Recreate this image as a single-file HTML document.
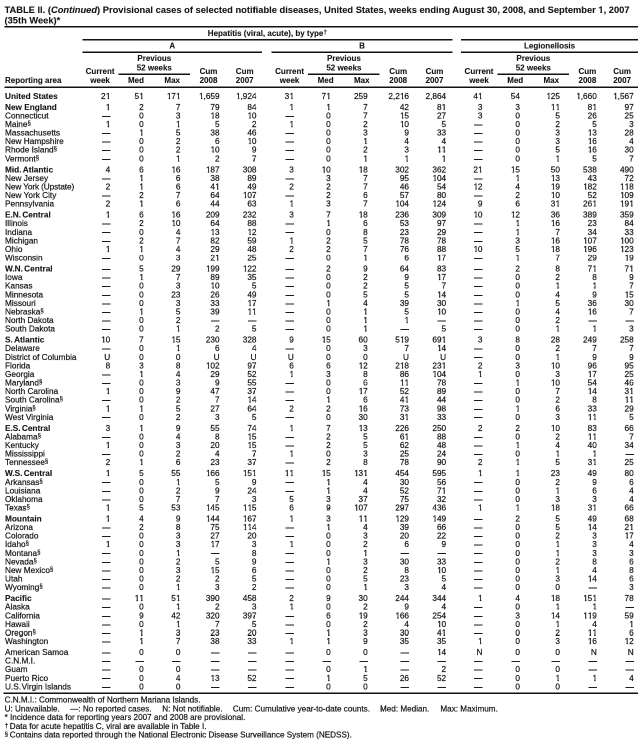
<!DOCTYPE html>
<html><head><meta charset="utf-8">
<style>
html,body{margin:0;padding:0;background:#fff;overflow:hidden;}
body{width:641px;height:744px;position:relative;overflow:hidden;font-family:"Liberation Sans",sans-serif;color:#151515;-webkit-text-stroke:0.2px #151515;}
.abs{position:absolute;white-space:nowrap;}
.t{font-weight:bold;font-size:9.3px;line-height:10px;left:4.5px;letter-spacing:0.014px;}
.h{font-weight:bold;font-size:8.0px;line-height:9px;text-align:center;letter-spacing:0px;}
.ln{position:absolute;background:#111;}
.r{position:absolute;left:0;width:641px;height:9px;font-size:8.25px;line-height:9px;white-space:nowrap;letter-spacing:0px;}
.r.b .n{font-weight:bold;}
.t,.h,.r.b .n{-webkit-text-stroke:0.1px #151515;}
.n{position:absolute;left:5.0px;top:0;}
.c{position:absolute;top:0;text-align:right;}
u{text-decoration:none;display:inline-block;position:relative;left:0.25px;clip-path:polygon(0 0,100% 0,100% 6.5px,3.15px 6.5px,3.15px 100%,1.75px 100%,1.75px 6.5px,0 6.5px);}
.t u{left:0;clip-path:polygon(0 0,100% 0,100% 7.15px,3.65px 7.15px,3.65px 100%,1.95px 100%,1.95px 7.15px,0 7.15px);}
.d{position:absolute;top:4.96px;width:8.5px;height:1px;background:#1a1a1a;}
sup{font-size:6px;line-height:0;vertical-align:1.9px;}
.h sup{font-size:6.5px;vertical-align:1.9px;}
.f sup{font-size:6.2px;vertical-align:1.7px;letter-spacing:-0.5px;}
.f{font-size:8.15px;line-height:9px;letter-spacing:0px;}
#w{position:absolute;left:0;top:0;width:1282px;height:1488px;transform:scale(0.5);will-change:transform;transform-origin:0 0;}
#z{position:absolute;left:0;top:0;width:641px;height:744px;zoom:2;overflow:hidden;}
</style></head><body><div id="w"><div id="z">
<div class="abs t" style="top:4.8px">TABLE II. (<i>Continued</i>) Provisional cases of selected notifiable diseases, United States, weeks ending August 30, 2008, and September <u>1</u>, 2007</div>
<div class="abs t" style="top:15.6px">(35th Week)*</div>
<div class="ln" style="left:4.5px;top:26.0px;width:633.5px;height:1.5px"></div>
<div class="abs h" style="left:82.5px;width:369.8px;top:29.2px">Hepatitis (viral, acute), by type<sup>†</sup></div>
<div class="ln" style="left:82.5px;top:39.0px;width:369.8px;height:1.5px"></div>
<div class="ln" style="left:461.1px;top:39.0px;width:176.9px;height:1.5px"></div>
<div class="abs h" style="left:82.5px;width:179.5px;top:41.5px">A</div>
<div class="abs h" style="left:271.7px;width:180.6px;top:41.5px">B</div>
<div class="abs h" style="left:461.1px;width:176.9px;top:41.5px">Legionellosis</div>
<div class="ln" style="left:82.5px;top:51.5px;width:179.5px;height:1.5px"></div>
<div class="ln" style="left:271.7px;top:51.5px;width:180.6px;height:1.5px"></div>
<div class="ln" style="left:461.1px;top:51.5px;width:176.9px;height:1.5px"></div>
<div class="abs h" style="left:5.00px;top:75.95px;text-align:left">Reporting area</div>
<div class="abs h" style="left:70.10px;width:60px;top:67.10px">Current</div>
<div class="abs h" style="left:70.10px;width:60px;top:75.95px">week</div>
<div class="abs h" style="left:124.30px;width:60px;top:53.90px">Previous</div>
<div class="abs h" style="left:124.30px;width:60px;top:63.30px">52 weeks</div>
<div class="abs h" style="left:106.00px;width:60px;top:75.95px">Med</div>
<div class="abs h" style="left:142.20px;width:60px;top:75.95px">Max</div>
<div class="abs h" style="left:178.50px;width:60px;top:67.10px">Cum</div>
<div class="abs h" style="left:178.50px;width:60px;top:75.95px">2008</div>
<div class="abs h" style="left:226.70px;width:36px;top:67.10px">Cum</div>
<div class="abs h" style="left:226.70px;width:36px;top:75.95px">2007</div>
<div class="ln" style="left:118.40px;top:73.50px;width:71.50px;height:1.5px"></div>
<div class="abs h" style="left:259.60px;width:60px;top:67.10px">Current</div>
<div class="abs h" style="left:259.60px;width:60px;top:75.95px">week</div>
<div class="abs h" style="left:313.90px;width:60px;top:53.90px">Previous</div>
<div class="abs h" style="left:313.90px;width:60px;top:63.30px">52 weeks</div>
<div class="abs h" style="left:295.60px;width:60px;top:75.95px">Med</div>
<div class="abs h" style="left:331.80px;width:60px;top:75.95px">Max</div>
<div class="abs h" style="left:368.20px;width:60px;top:67.10px">Cum</div>
<div class="abs h" style="left:368.20px;width:60px;top:75.95px">2008</div>
<div class="abs h" style="left:416.50px;width:36px;top:67.10px">Cum</div>
<div class="abs h" style="left:416.50px;width:36px;top:75.95px">2007</div>
<div class="ln" style="left:307.90px;top:73.50px;width:71.70px;height:1.5px"></div>
<div class="abs h" style="left:449.00px;width:60px;top:67.10px">Current</div>
<div class="abs h" style="left:449.00px;width:60px;top:75.95px">week</div>
<div class="abs h" style="left:503.30px;width:60px;top:53.90px">Previous</div>
<div class="abs h" style="left:503.30px;width:60px;top:63.30px">52 weeks</div>
<div class="abs h" style="left:485.20px;width:60px;top:75.95px">Med</div>
<div class="abs h" style="left:521.25px;width:60px;top:75.95px">Max</div>
<div class="abs h" style="left:557.40px;width:60px;top:67.10px">Cum</div>
<div class="abs h" style="left:557.40px;width:60px;top:75.95px">2008</div>
<div class="abs h" style="left:604.10px;width:36px;top:67.10px">Cum</div>
<div class="abs h" style="left:604.10px;width:36px;top:75.95px">2007</div>
<div class="ln" style="left:497.70px;top:73.50px;width:71.30px;height:1.5px"></div>
<div class="ln" style="left:4.5px;top:86.5px;width:633.5px;height:1.5px"></div>
<div class="r b" style="top:91.30px"><span class="n">United States</span><span class="c" style="right:530.76px">2<u>1</u></span><span class="c" style="right:497.30px">5<u>1</u></span><span class="c" style="right:460.52px"><u>1</u>7<u>1</u></span><span class="c" style="right:421.42px"><u>1</u>,659</span><span class="c" style="right:384.50px"><u>1</u>,924</span><span class="c" style="right:347.20px">3<u>1</u></span><span class="c" style="right:310.26px">7<u>1</u></span><span class="c" style="right:273.28px">259</span><span class="c" style="right:231.99px">2,2<u>1</u>6</span><span class="c" style="right:194.88px">2,864</span><span class="c" style="right:158.50px">4<u>1</u></span><span class="c" style="right:121.10px">54</span><span class="c" style="right:81.03px"><u>1</u>25</span><span class="c" style="right:44.18px"><u>1</u>,660</span><span class="c" style="right:7.29px"><u>1</u>,567</span></div>
<div class="r b" style="top:102.31px"><span class="n">New England</span><span class="c" style="right:530.76px"><u>1</u></span><span class="c" style="right:497.30px">2</span><span class="c" style="right:460.52px">7</span><span class="c" style="right:421.42px">79</span><span class="c" style="right:384.50px">84</span><span class="c" style="right:347.20px"><u>1</u></span><span class="c" style="right:310.26px"><u>1</u></span><span class="c" style="right:273.28px">7</span><span class="c" style="right:231.99px">42</span><span class="c" style="right:194.88px">8<u>1</u></span><span class="c" style="right:158.50px">3</span><span class="c" style="right:121.10px">3</span><span class="c" style="right:81.03px"><u>1</u><u>1</u></span><span class="c" style="right:44.18px">8<u>1</u></span><span class="c" style="right:7.29px">97</span></div>
<div class="r" style="top:110.89px"><span class="n">Connecticut</span><span class="d" style="left:101.84px;top:5.11px"></span><span class="c" style="right:497.30px">0</span><span class="c" style="right:460.52px">3</span><span class="c" style="right:421.42px"><u>1</u>8</span><span class="c" style="right:384.50px"><u>1</u>0</span><span class="d" style="left:285.40px;top:5.11px"></span><span class="c" style="right:310.26px">0</span><span class="c" style="right:273.28px">7</span><span class="c" style="right:231.99px"><u>1</u>5</span><span class="c" style="right:194.88px">27</span><span class="c" style="right:158.50px">3</span><span class="c" style="right:121.10px">0</span><span class="c" style="right:81.03px">5</span><span class="c" style="right:44.18px">26</span><span class="c" style="right:7.29px">25</span></div>
<div class="r" style="top:119.47px"><span class="n">Maine<sup>§</sup></span><span class="c" style="right:530.76px"><u>1</u></span><span class="c" style="right:497.30px">0</span><span class="c" style="right:460.52px"><u>1</u></span><span class="c" style="right:421.42px">5</span><span class="c" style="right:384.50px">2</span><span class="c" style="right:347.20px"><u>1</u></span><span class="c" style="right:310.26px">0</span><span class="c" style="right:273.28px">2</span><span class="c" style="right:231.99px"><u>1</u>0</span><span class="c" style="right:194.88px">5</span><span class="d" style="left:474.10px;top:5.03px"></span><span class="c" style="right:121.10px">0</span><span class="c" style="right:81.03px">2</span><span class="c" style="right:44.18px">5</span><span class="c" style="right:7.29px">3</span></div>
<div class="r" style="top:128.05px"><span class="n">Massachusetts</span><span class="d" style="left:101.84px;top:4.95px"></span><span class="c" style="right:497.30px"><u>1</u></span><span class="c" style="right:460.52px">5</span><span class="c" style="right:421.42px">38</span><span class="c" style="right:384.50px">46</span><span class="d" style="left:285.40px;top:4.95px"></span><span class="c" style="right:310.26px">0</span><span class="c" style="right:273.28px">3</span><span class="c" style="right:231.99px">9</span><span class="c" style="right:194.88px">33</span><span class="d" style="left:474.10px;top:4.95px"></span><span class="c" style="right:121.10px">0</span><span class="c" style="right:81.03px">3</span><span class="c" style="right:44.18px"><u>1</u>3</span><span class="c" style="right:7.29px">28</span></div>
<div class="r" style="top:136.63px"><span class="n">New Hampshire</span><span class="d" style="left:101.84px;top:4.87px"></span><span class="c" style="right:497.30px">0</span><span class="c" style="right:460.52px">2</span><span class="c" style="right:421.42px">6</span><span class="c" style="right:384.50px"><u>1</u>0</span><span class="d" style="left:285.40px;top:4.87px"></span><span class="c" style="right:310.26px">0</span><span class="c" style="right:273.28px"><u>1</u></span><span class="c" style="right:231.99px">4</span><span class="c" style="right:194.88px">4</span><span class="d" style="left:474.10px;top:4.87px"></span><span class="c" style="right:121.10px">0</span><span class="c" style="right:81.03px">3</span><span class="c" style="right:44.18px"><u>1</u>6</span><span class="c" style="right:7.29px">4</span></div>
<div class="r" style="top:145.21px"><span class="n">Rhode Island<sup>§</sup></span><span class="d" style="left:101.84px;top:4.79px"></span><span class="c" style="right:497.30px">0</span><span class="c" style="right:460.52px">2</span><span class="c" style="right:421.42px"><u>1</u>0</span><span class="c" style="right:384.50px">9</span><span class="d" style="left:285.40px;top:4.79px"></span><span class="c" style="right:310.26px">0</span><span class="c" style="right:273.28px">2</span><span class="c" style="right:231.99px">3</span><span class="c" style="right:194.88px"><u>1</u><u>1</u></span><span class="d" style="left:474.10px;top:4.79px"></span><span class="c" style="right:121.10px">0</span><span class="c" style="right:81.03px">5</span><span class="c" style="right:44.18px"><u>1</u>6</span><span class="c" style="right:7.29px">30</span></div>
<div class="r" style="top:153.79px"><span class="n">Vermont<sup>§</sup></span><span class="d" style="left:101.84px;top:5.21px"></span><span class="c" style="right:497.30px">0</span><span class="c" style="right:460.52px"><u>1</u></span><span class="c" style="right:421.42px">2</span><span class="c" style="right:384.50px">7</span><span class="d" style="left:285.40px;top:5.21px"></span><span class="c" style="right:310.26px">0</span><span class="c" style="right:273.28px"><u>1</u></span><span class="c" style="right:231.99px"><u>1</u></span><span class="c" style="right:194.88px"><u>1</u></span><span class="d" style="left:474.10px;top:5.21px"></span><span class="c" style="right:121.10px">0</span><span class="c" style="right:81.03px"><u>1</u></span><span class="c" style="right:44.18px">5</span><span class="c" style="right:7.29px">7</span></div>
<div class="r b" style="top:164.80px"><span class="n">Mid.<span style="letter-spacing:-1px"> </span>Atlantic</span><span class="c" style="right:530.76px">4</span><span class="c" style="right:497.30px">6</span><span class="c" style="right:460.52px"><u>1</u>6</span><span class="c" style="right:421.42px"><u>1</u>87</span><span class="c" style="right:384.50px">308</span><span class="c" style="right:347.20px">3</span><span class="c" style="right:310.26px"><u>1</u>0</span><span class="c" style="right:273.28px"><u>1</u>8</span><span class="c" style="right:231.99px">302</span><span class="c" style="right:194.88px">362</span><span class="c" style="right:158.50px">2<u>1</u></span><span class="c" style="right:121.10px"><u>1</u>5</span><span class="c" style="right:81.03px">50</span><span class="c" style="right:44.18px">538</span><span class="c" style="right:7.29px">490</span></div>
<div class="r" style="top:173.38px"><span class="n">New Jersey</span><span class="d" style="left:101.84px;top:5.12px"></span><span class="c" style="right:497.30px"><u>1</u></span><span class="c" style="right:460.52px">6</span><span class="c" style="right:421.42px">38</span><span class="c" style="right:384.50px">89</span><span class="d" style="left:285.40px;top:5.12px"></span><span class="c" style="right:310.26px">3</span><span class="c" style="right:273.28px">7</span><span class="c" style="right:231.99px">95</span><span class="c" style="right:194.88px"><u>1</u>04</span><span class="d" style="left:474.10px;top:5.12px"></span><span class="c" style="right:121.10px"><u>1</u></span><span class="c" style="right:81.03px"><u>1</u>3</span><span class="c" style="right:44.18px">43</span><span class="c" style="right:7.29px">72</span></div>
<div class="r" style="top:181.96px"><span class="n"><span style="letter-spacing:-0.11px">New York (Upstate)</span></span><span class="c" style="right:530.76px">2</span><span class="c" style="right:497.30px"><u>1</u></span><span class="c" style="right:460.52px">6</span><span class="c" style="right:421.42px">4<u>1</u></span><span class="c" style="right:384.50px">49</span><span class="c" style="right:347.20px">2</span><span class="c" style="right:310.26px">2</span><span class="c" style="right:273.28px">7</span><span class="c" style="right:231.99px">46</span><span class="c" style="right:194.88px">54</span><span class="c" style="right:158.50px"><u>1</u>2</span><span class="c" style="right:121.10px">4</span><span class="c" style="right:81.03px"><u>1</u>9</span><span class="c" style="right:44.18px"><u>1</u>82</span><span class="c" style="right:7.29px"><u>1</u><u>1</u>8</span></div>
<div class="r" style="top:190.54px"><span class="n">New York City</span><span class="d" style="left:101.84px;top:4.96px"></span><span class="c" style="right:497.30px">2</span><span class="c" style="right:460.52px">7</span><span class="c" style="right:421.42px">64</span><span class="c" style="right:384.50px"><u>1</u>07</span><span class="d" style="left:285.40px;top:4.96px"></span><span class="c" style="right:310.26px">2</span><span class="c" style="right:273.28px">6</span><span class="c" style="right:231.99px">57</span><span class="c" style="right:194.88px">80</span><span class="d" style="left:474.10px;top:4.96px"></span><span class="c" style="right:121.10px">2</span><span class="c" style="right:81.03px"><u>1</u>0</span><span class="c" style="right:44.18px">52</span><span class="c" style="right:7.29px"><u>1</u>09</span></div>
<div class="r" style="top:199.12px"><span class="n">Pennsylvania</span><span class="c" style="right:530.76px">2</span><span class="c" style="right:497.30px"><u>1</u></span><span class="c" style="right:460.52px">6</span><span class="c" style="right:421.42px">44</span><span class="c" style="right:384.50px">63</span><span class="c" style="right:347.20px"><u>1</u></span><span class="c" style="right:310.26px">3</span><span class="c" style="right:273.28px">7</span><span class="c" style="right:231.99px"><u>1</u>04</span><span class="c" style="right:194.88px"><u>1</u>24</span><span class="c" style="right:158.50px">9</span><span class="c" style="right:121.10px">6</span><span class="c" style="right:81.03px">3<u>1</u></span><span class="c" style="right:44.18px">26<u>1</u></span><span class="c" style="right:7.29px"><u>1</u>9<u>1</u></span></div>
<div class="r b" style="top:210.13px"><span class="n">E.N.<span style="letter-spacing:-1px"> </span>Central</span><span class="c" style="right:530.76px"><u>1</u></span><span class="c" style="right:497.30px">6</span><span class="c" style="right:460.52px"><u>1</u>6</span><span class="c" style="right:421.42px">209</span><span class="c" style="right:384.50px">232</span><span class="c" style="right:347.20px">3</span><span class="c" style="right:310.26px">7</span><span class="c" style="right:273.28px"><u>1</u>8</span><span class="c" style="right:231.99px">236</span><span class="c" style="right:194.88px">309</span><span class="c" style="right:158.50px"><u>1</u>0</span><span class="c" style="right:121.10px"><u>1</u>2</span><span class="c" style="right:81.03px">36</span><span class="c" style="right:44.18px">389</span><span class="c" style="right:7.29px">359</span></div>
<div class="r" style="top:218.71px"><span class="n">Illinois</span><span class="d" style="left:101.84px;top:4.79px"></span><span class="c" style="right:497.30px">2</span><span class="c" style="right:460.52px"><u>1</u>0</span><span class="c" style="right:421.42px">64</span><span class="c" style="right:384.50px">88</span><span class="d" style="left:285.40px;top:4.79px"></span><span class="c" style="right:310.26px"><u>1</u></span><span class="c" style="right:273.28px">6</span><span class="c" style="right:231.99px">53</span><span class="c" style="right:194.88px">97</span><span class="d" style="left:474.10px;top:4.79px"></span><span class="c" style="right:121.10px"><u>1</u></span><span class="c" style="right:81.03px"><u>1</u>6</span><span class="c" style="right:44.18px">23</span><span class="c" style="right:7.29px">84</span></div>
<div class="r" style="top:227.29px"><span class="n">Indiana</span><span class="d" style="left:101.84px;top:4.71px"></span><span class="c" style="right:497.30px">0</span><span class="c" style="right:460.52px">4</span><span class="c" style="right:421.42px"><u>1</u>3</span><span class="c" style="right:384.50px"><u>1</u>2</span><span class="d" style="left:285.40px;top:4.71px"></span><span class="c" style="right:310.26px">0</span><span class="c" style="right:273.28px">8</span><span class="c" style="right:231.99px">23</span><span class="c" style="right:194.88px">29</span><span class="d" style="left:474.10px;top:4.71px"></span><span class="c" style="right:121.10px"><u>1</u></span><span class="c" style="right:81.03px">7</span><span class="c" style="right:44.18px">34</span><span class="c" style="right:7.29px">33</span></div>
<div class="r" style="top:235.87px"><span class="n">Michigan</span><span class="d" style="left:101.84px;top:5.13px"></span><span class="c" style="right:497.30px">2</span><span class="c" style="right:460.52px">7</span><span class="c" style="right:421.42px">82</span><span class="c" style="right:384.50px">59</span><span class="c" style="right:347.20px"><u>1</u></span><span class="c" style="right:310.26px">2</span><span class="c" style="right:273.28px">5</span><span class="c" style="right:231.99px">78</span><span class="c" style="right:194.88px">78</span><span class="d" style="left:474.10px;top:5.13px"></span><span class="c" style="right:121.10px">3</span><span class="c" style="right:81.03px"><u>1</u>6</span><span class="c" style="right:44.18px"><u>1</u>07</span><span class="c" style="right:7.29px"><u>1</u>00</span></div>
<div class="r" style="top:244.45px"><span class="n">Ohio</span><span class="c" style="right:530.76px"><u>1</u></span><span class="c" style="right:497.30px"><u>1</u></span><span class="c" style="right:460.52px">4</span><span class="c" style="right:421.42px">29</span><span class="c" style="right:384.50px">48</span><span class="c" style="right:347.20px">2</span><span class="c" style="right:310.26px">2</span><span class="c" style="right:273.28px">7</span><span class="c" style="right:231.99px">76</span><span class="c" style="right:194.88px">88</span><span class="c" style="right:158.50px"><u>1</u>0</span><span class="c" style="right:121.10px">5</span><span class="c" style="right:81.03px"><u>1</u>8</span><span class="c" style="right:44.18px"><u>1</u>96</span><span class="c" style="right:7.29px"><u>1</u>23</span></div>
<div class="r" style="top:253.03px"><span class="n">Wisconsin</span><span class="d" style="left:101.84px;top:4.97px"></span><span class="c" style="right:497.30px">0</span><span class="c" style="right:460.52px">3</span><span class="c" style="right:421.42px">2<u>1</u></span><span class="c" style="right:384.50px">25</span><span class="d" style="left:285.40px;top:4.97px"></span><span class="c" style="right:310.26px">0</span><span class="c" style="right:273.28px"><u>1</u></span><span class="c" style="right:231.99px">6</span><span class="c" style="right:194.88px"><u>1</u>7</span><span class="d" style="left:474.10px;top:4.97px"></span><span class="c" style="right:121.10px"><u>1</u></span><span class="c" style="right:81.03px">7</span><span class="c" style="right:44.18px">29</span><span class="c" style="right:7.29px"><u>1</u>9</span></div>
<div class="r b" style="top:264.04px"><span class="n">W.N.<span style="letter-spacing:-1px"> </span>Central</span><span class="d" style="left:101.84px;top:4.96px"></span><span class="c" style="right:497.30px">5</span><span class="c" style="right:460.52px">29</span><span class="c" style="right:421.42px"><u>1</u>99</span><span class="c" style="right:384.50px"><u>1</u>22</span><span class="d" style="left:285.40px;top:4.96px"></span><span class="c" style="right:310.26px">2</span><span class="c" style="right:273.28px">9</span><span class="c" style="right:231.99px">64</span><span class="c" style="right:194.88px">83</span><span class="d" style="left:474.10px;top:4.96px"></span><span class="c" style="right:121.10px">2</span><span class="c" style="right:81.03px">8</span><span class="c" style="right:44.18px">7<u>1</u></span><span class="c" style="right:7.29px">7<u>1</u></span></div>
<div class="r" style="top:272.62px"><span class="n">Iowa</span><span class="d" style="left:101.84px;top:4.88px"></span><span class="c" style="right:497.30px"><u>1</u></span><span class="c" style="right:460.52px">7</span><span class="c" style="right:421.42px">89</span><span class="c" style="right:384.50px">35</span><span class="d" style="left:285.40px;top:4.88px"></span><span class="c" style="right:310.26px">0</span><span class="c" style="right:273.28px">2</span><span class="c" style="right:231.99px">9</span><span class="c" style="right:194.88px"><u>1</u>7</span><span class="d" style="left:474.10px;top:4.88px"></span><span class="c" style="right:121.10px">0</span><span class="c" style="right:81.03px">2</span><span class="c" style="right:44.18px">8</span><span class="c" style="right:7.29px">9</span></div>
<div class="r" style="top:281.20px"><span class="n">Kansas</span><span class="d" style="left:101.84px;top:4.80px"></span><span class="c" style="right:497.30px">0</span><span class="c" style="right:460.52px">3</span><span class="c" style="right:421.42px"><u>1</u>0</span><span class="c" style="right:384.50px">5</span><span class="d" style="left:285.40px;top:4.80px"></span><span class="c" style="right:310.26px">0</span><span class="c" style="right:273.28px">2</span><span class="c" style="right:231.99px">5</span><span class="c" style="right:194.88px">7</span><span class="d" style="left:474.10px;top:4.80px"></span><span class="c" style="right:121.10px">0</span><span class="c" style="right:81.03px"><u>1</u></span><span class="c" style="right:44.18px"><u>1</u></span><span class="c" style="right:7.29px">7</span></div>
<div class="r" style="top:289.78px"><span class="n">Minnesota</span><span class="d" style="left:101.84px;top:5.22px"></span><span class="c" style="right:497.30px">0</span><span class="c" style="right:460.52px">23</span><span class="c" style="right:421.42px">26</span><span class="c" style="right:384.50px">49</span><span class="d" style="left:285.40px;top:5.22px"></span><span class="c" style="right:310.26px">0</span><span class="c" style="right:273.28px">5</span><span class="c" style="right:231.99px">5</span><span class="c" style="right:194.88px"><u>1</u>4</span><span class="d" style="left:474.10px;top:5.22px"></span><span class="c" style="right:121.10px">0</span><span class="c" style="right:81.03px">4</span><span class="c" style="right:44.18px">9</span><span class="c" style="right:7.29px"><u>1</u>5</span></div>
<div class="r" style="top:298.36px"><span class="n">Missouri</span><span class="d" style="left:101.84px;top:5.14px"></span><span class="c" style="right:497.30px">0</span><span class="c" style="right:460.52px">3</span><span class="c" style="right:421.42px">33</span><span class="c" style="right:384.50px"><u>1</u>7</span><span class="d" style="left:285.40px;top:5.14px"></span><span class="c" style="right:310.26px"><u>1</u></span><span class="c" style="right:273.28px">4</span><span class="c" style="right:231.99px">39</span><span class="c" style="right:194.88px">30</span><span class="d" style="left:474.10px;top:5.14px"></span><span class="c" style="right:121.10px"><u>1</u></span><span class="c" style="right:81.03px">5</span><span class="c" style="right:44.18px">36</span><span class="c" style="right:7.29px">30</span></div>
<div class="r" style="top:306.94px"><span class="n">Nebraska<sup>§</sup></span><span class="d" style="left:101.84px;top:5.06px"></span><span class="c" style="right:497.30px"><u>1</u></span><span class="c" style="right:460.52px">5</span><span class="c" style="right:421.42px">39</span><span class="c" style="right:384.50px"><u>1</u><u>1</u></span><span class="d" style="left:285.40px;top:5.06px"></span><span class="c" style="right:310.26px">0</span><span class="c" style="right:273.28px"><u>1</u></span><span class="c" style="right:231.99px">5</span><span class="c" style="right:194.88px"><u>1</u>0</span><span class="d" style="left:474.10px;top:5.06px"></span><span class="c" style="right:121.10px">0</span><span class="c" style="right:81.03px">4</span><span class="c" style="right:44.18px"><u>1</u>6</span><span class="c" style="right:7.29px">7</span></div>
<div class="r" style="top:315.52px"><span class="n">North Dakota</span><span class="d" style="left:101.84px;top:4.98px"></span><span class="c" style="right:497.30px">0</span><span class="c" style="right:460.52px">2</span><span class="d" style="left:211.18px;top:4.98px"></span><span class="d" style="left:248.10px;top:4.98px"></span><span class="d" style="left:285.40px;top:4.98px"></span><span class="c" style="right:310.26px">0</span><span class="c" style="right:273.28px"><u>1</u></span><span class="c" style="right:231.99px"><u>1</u></span><span class="d" style="left:437.72px;top:4.98px"></span><span class="d" style="left:474.10px;top:4.98px"></span><span class="c" style="right:121.10px">0</span><span class="c" style="right:81.03px">2</span><span class="d" style="left:588.42px;top:4.98px"></span><span class="d" style="left:625.31px;top:4.98px"></span></div>
<div class="r" style="top:324.10px"><span class="n">South Dakota</span><span class="d" style="left:101.84px;top:4.90px"></span><span class="c" style="right:497.30px">0</span><span class="c" style="right:460.52px"><u>1</u></span><span class="c" style="right:421.42px">2</span><span class="c" style="right:384.50px">5</span><span class="d" style="left:285.40px;top:4.90px"></span><span class="c" style="right:310.26px">0</span><span class="c" style="right:273.28px"><u>1</u></span><span class="d" style="left:400.61px;top:4.90px"></span><span class="c" style="right:194.88px">5</span><span class="d" style="left:474.10px;top:4.90px"></span><span class="c" style="right:121.10px">0</span><span class="c" style="right:81.03px"><u>1</u></span><span class="c" style="right:44.18px"><u>1</u></span><span class="c" style="right:7.29px">3</span></div>
<div class="r b" style="top:335.11px"><span class="n">S.<span style="letter-spacing:-1px"> </span>Atlantic</span><span class="c" style="right:530.76px"><u>1</u>0</span><span class="c" style="right:497.30px">7</span><span class="c" style="right:460.52px"><u>1</u>5</span><span class="c" style="right:421.42px">230</span><span class="c" style="right:384.50px">328</span><span class="c" style="right:347.20px">9</span><span class="c" style="right:310.26px"><u>1</u>5</span><span class="c" style="right:273.28px">60</span><span class="c" style="right:231.99px">5<u>1</u>9</span><span class="c" style="right:194.88px">69<u>1</u></span><span class="c" style="right:158.50px">3</span><span class="c" style="right:121.10px">8</span><span class="c" style="right:81.03px">28</span><span class="c" style="right:44.18px">249</span><span class="c" style="right:7.29px">258</span></div>
<div class="r" style="top:343.69px"><span class="n">Delaware</span><span class="d" style="left:101.84px;top:4.81px"></span><span class="c" style="right:497.30px">0</span><span class="c" style="right:460.52px"><u>1</u></span><span class="c" style="right:421.42px">6</span><span class="c" style="right:384.50px">4</span><span class="d" style="left:285.40px;top:4.81px"></span><span class="c" style="right:310.26px">0</span><span class="c" style="right:273.28px">3</span><span class="c" style="right:231.99px">7</span><span class="c" style="right:194.88px"><u>1</u>4</span><span class="d" style="left:474.10px;top:4.81px"></span><span class="c" style="right:121.10px">0</span><span class="c" style="right:81.03px">2</span><span class="c" style="right:44.18px">7</span><span class="c" style="right:7.29px">7</span></div>
<div class="r" style="top:352.27px"><span class="n">District of Columbia</span><span class="c" style="right:530.76px">U</span><span class="c" style="right:497.30px">0</span><span class="c" style="right:460.52px">0</span><span class="c" style="right:421.42px">U</span><span class="c" style="right:384.50px">U</span><span class="c" style="right:347.20px">U</span><span class="c" style="right:310.26px">0</span><span class="c" style="right:273.28px">0</span><span class="c" style="right:231.99px">U</span><span class="c" style="right:194.88px">U</span><span class="d" style="left:474.10px;top:4.73px"></span><span class="c" style="right:121.10px">0</span><span class="c" style="right:81.03px"><u>1</u></span><span class="c" style="right:44.18px">9</span><span class="c" style="right:7.29px">9</span></div>
<div class="r" style="top:360.85px"><span class="n">Florida</span><span class="c" style="right:530.76px">8</span><span class="c" style="right:497.30px">3</span><span class="c" style="right:460.52px">8</span><span class="c" style="right:421.42px"><u>1</u>02</span><span class="c" style="right:384.50px">97</span><span class="c" style="right:347.20px">6</span><span class="c" style="right:310.26px">6</span><span class="c" style="right:273.28px"><u>1</u>2</span><span class="c" style="right:231.99px">2<u>1</u>8</span><span class="c" style="right:194.88px">23<u>1</u></span><span class="c" style="right:158.50px">2</span><span class="c" style="right:121.10px">3</span><span class="c" style="right:81.03px"><u>1</u>0</span><span class="c" style="right:44.18px">96</span><span class="c" style="right:7.29px">95</span></div>
<div class="r" style="top:369.43px"><span class="n">Georgia</span><span class="d" style="left:101.84px;top:5.07px"></span><span class="c" style="right:497.30px"><u>1</u></span><span class="c" style="right:460.52px">4</span><span class="c" style="right:421.42px">29</span><span class="c" style="right:384.50px">52</span><span class="c" style="right:347.20px"><u>1</u></span><span class="c" style="right:310.26px">3</span><span class="c" style="right:273.28px">8</span><span class="c" style="right:231.99px">86</span><span class="c" style="right:194.88px"><u>1</u>04</span><span class="c" style="right:158.50px"><u>1</u></span><span class="c" style="right:121.10px">0</span><span class="c" style="right:81.03px">3</span><span class="c" style="right:44.18px"><u>1</u>7</span><span class="c" style="right:7.29px">25</span></div>
<div class="r" style="top:378.01px"><span class="n">Maryland<sup>§</sup></span><span class="d" style="left:101.84px;top:4.99px"></span><span class="c" style="right:497.30px">0</span><span class="c" style="right:460.52px">3</span><span class="c" style="right:421.42px">9</span><span class="c" style="right:384.50px">55</span><span class="d" style="left:285.40px;top:4.99px"></span><span class="c" style="right:310.26px">0</span><span class="c" style="right:273.28px">6</span><span class="c" style="right:231.99px"><u>1</u><u>1</u></span><span class="c" style="right:194.88px">78</span><span class="d" style="left:474.10px;top:4.99px"></span><span class="c" style="right:121.10px"><u>1</u></span><span class="c" style="right:81.03px"><u>1</u>0</span><span class="c" style="right:44.18px">54</span><span class="c" style="right:7.29px">46</span></div>
<div class="r" style="top:386.59px"><span class="n">North Carolina</span><span class="c" style="right:530.76px"><u>1</u></span><span class="c" style="right:497.30px">0</span><span class="c" style="right:460.52px">9</span><span class="c" style="right:421.42px">47</span><span class="c" style="right:384.50px">37</span><span class="d" style="left:285.40px;top:4.91px"></span><span class="c" style="right:310.26px">0</span><span class="c" style="right:273.28px"><u>1</u>7</span><span class="c" style="right:231.99px">52</span><span class="c" style="right:194.88px">89</span><span class="d" style="left:474.10px;top:4.91px"></span><span class="c" style="right:121.10px">0</span><span class="c" style="right:81.03px">7</span><span class="c" style="right:44.18px"><u>1</u>4</span><span class="c" style="right:7.29px">3<u>1</u></span></div>
<div class="r" style="top:395.17px"><span class="n">South Carolina<sup>§</sup></span><span class="d" style="left:101.84px;top:4.83px"></span><span class="c" style="right:497.30px">0</span><span class="c" style="right:460.52px">2</span><span class="c" style="right:421.42px">7</span><span class="c" style="right:384.50px"><u>1</u>4</span><span class="d" style="left:285.40px;top:4.83px"></span><span class="c" style="right:310.26px"><u>1</u></span><span class="c" style="right:273.28px">6</span><span class="c" style="right:231.99px">4<u>1</u></span><span class="c" style="right:194.88px">44</span><span class="d" style="left:474.10px;top:4.83px"></span><span class="c" style="right:121.10px">0</span><span class="c" style="right:81.03px">2</span><span class="c" style="right:44.18px">8</span><span class="c" style="right:7.29px"><u>1</u><u>1</u></span></div>
<div class="r" style="top:403.75px"><span class="n">Virginia<sup>§</sup></span><span class="c" style="right:530.76px"><u>1</u></span><span class="c" style="right:497.30px"><u>1</u></span><span class="c" style="right:460.52px">5</span><span class="c" style="right:421.42px">27</span><span class="c" style="right:384.50px">64</span><span class="c" style="right:347.20px">2</span><span class="c" style="right:310.26px">2</span><span class="c" style="right:273.28px"><u>1</u>6</span><span class="c" style="right:231.99px">73</span><span class="c" style="right:194.88px">98</span><span class="d" style="left:474.10px;top:5.25px"></span><span class="c" style="right:121.10px"><u>1</u></span><span class="c" style="right:81.03px">6</span><span class="c" style="right:44.18px">33</span><span class="c" style="right:7.29px">29</span></div>
<div class="r" style="top:412.33px"><span class="n">West Virginia</span><span class="d" style="left:101.84px;top:4.67px"></span><span class="c" style="right:497.30px">0</span><span class="c" style="right:460.52px">2</span><span class="c" style="right:421.42px">3</span><span class="c" style="right:384.50px">5</span><span class="d" style="left:285.40px;top:4.67px"></span><span class="c" style="right:310.26px">0</span><span class="c" style="right:273.28px">30</span><span class="c" style="right:231.99px">3<u>1</u></span><span class="c" style="right:194.88px">33</span><span class="d" style="left:474.10px;top:4.67px"></span><span class="c" style="right:121.10px">0</span><span class="c" style="right:81.03px">3</span><span class="c" style="right:44.18px"><u>1</u><u>1</u></span><span class="c" style="right:7.29px">5</span></div>
<div class="r b" style="top:423.34px"><span class="n">E.S.<span style="letter-spacing:-1px"> </span>Central</span><span class="c" style="right:530.76px">3</span><span class="c" style="right:497.30px"><u>1</u></span><span class="c" style="right:460.52px">9</span><span class="c" style="right:421.42px">55</span><span class="c" style="right:384.50px">74</span><span class="c" style="right:347.20px"><u>1</u></span><span class="c" style="right:310.26px">7</span><span class="c" style="right:273.28px"><u>1</u>3</span><span class="c" style="right:231.99px">226</span><span class="c" style="right:194.88px">250</span><span class="c" style="right:158.50px">2</span><span class="c" style="right:121.10px">2</span><span class="c" style="right:81.03px"><u>1</u>0</span><span class="c" style="right:44.18px">83</span><span class="c" style="right:7.29px">66</span></div>
<div class="r" style="top:431.92px"><span class="n">Alabama<sup>§</sup></span><span class="d" style="left:101.84px;top:5.08px"></span><span class="c" style="right:497.30px">0</span><span class="c" style="right:460.52px">4</span><span class="c" style="right:421.42px">8</span><span class="c" style="right:384.50px"><u>1</u>5</span><span class="d" style="left:285.40px;top:5.08px"></span><span class="c" style="right:310.26px">2</span><span class="c" style="right:273.28px">5</span><span class="c" style="right:231.99px">6<u>1</u></span><span class="c" style="right:194.88px">88</span><span class="d" style="left:474.10px;top:5.08px"></span><span class="c" style="right:121.10px">0</span><span class="c" style="right:81.03px">2</span><span class="c" style="right:44.18px"><u>1</u><u>1</u></span><span class="c" style="right:7.29px">7</span></div>
<div class="r" style="top:440.50px"><span class="n">Kentucky</span><span class="c" style="right:530.76px"><u>1</u></span><span class="c" style="right:497.30px">0</span><span class="c" style="right:460.52px">3</span><span class="c" style="right:421.42px">20</span><span class="c" style="right:384.50px"><u>1</u>5</span><span class="d" style="left:285.40px;top:5.00px"></span><span class="c" style="right:310.26px">2</span><span class="c" style="right:273.28px">5</span><span class="c" style="right:231.99px">62</span><span class="c" style="right:194.88px">48</span><span class="d" style="left:474.10px;top:5.00px"></span><span class="c" style="right:121.10px"><u>1</u></span><span class="c" style="right:81.03px">4</span><span class="c" style="right:44.18px">40</span><span class="c" style="right:7.29px">34</span></div>
<div class="r" style="top:449.08px"><span class="n">Mississippi</span><span class="d" style="left:101.84px;top:4.92px"></span><span class="c" style="right:497.30px">0</span><span class="c" style="right:460.52px">2</span><span class="c" style="right:421.42px">4</span><span class="c" style="right:384.50px">7</span><span class="c" style="right:347.20px"><u>1</u></span><span class="c" style="right:310.26px">0</span><span class="c" style="right:273.28px">3</span><span class="c" style="right:231.99px">25</span><span class="c" style="right:194.88px">24</span><span class="d" style="left:474.10px;top:4.92px"></span><span class="c" style="right:121.10px">0</span><span class="c" style="right:81.03px"><u>1</u></span><span class="c" style="right:44.18px"><u>1</u></span><span class="d" style="left:625.31px;top:4.92px"></span></div>
<div class="r" style="top:457.66px"><span class="n">Tennessee<sup>§</sup></span><span class="c" style="right:530.76px">2</span><span class="c" style="right:497.30px"><u>1</u></span><span class="c" style="right:460.52px">6</span><span class="c" style="right:421.42px">23</span><span class="c" style="right:384.50px">37</span><span class="d" style="left:285.40px;top:4.84px"></span><span class="c" style="right:310.26px">2</span><span class="c" style="right:273.28px">8</span><span class="c" style="right:231.99px">78</span><span class="c" style="right:194.88px">90</span><span class="c" style="right:158.50px">2</span><span class="c" style="right:121.10px"><u>1</u></span><span class="c" style="right:81.03px">5</span><span class="c" style="right:44.18px">3<u>1</u></span><span class="c" style="right:7.29px">25</span></div>
<div class="r b" style="top:468.67px"><span class="n">W.S.<span style="letter-spacing:-1px"> </span>Central</span><span class="c" style="right:530.76px"><u>1</u></span><span class="c" style="right:497.30px">5</span><span class="c" style="right:460.52px">55</span><span class="c" style="right:421.42px"><u>1</u>66</span><span class="c" style="right:384.50px"><u>1</u>5<u>1</u></span><span class="c" style="right:347.20px"><u>1</u><u>1</u></span><span class="c" style="right:310.26px"><u>1</u>5</span><span class="c" style="right:273.28px"><u>1</u>3<u>1</u></span><span class="c" style="right:231.99px">454</span><span class="c" style="right:194.88px">595</span><span class="c" style="right:158.50px"><u>1</u></span><span class="c" style="right:121.10px"><u>1</u></span><span class="c" style="right:81.03px">23</span><span class="c" style="right:44.18px">49</span><span class="c" style="right:7.29px">80</span></div>
<div class="r" style="top:477.25px"><span class="n">Arkansas<sup>§</sup></span><span class="d" style="left:101.84px;top:4.75px"></span><span class="c" style="right:497.30px">0</span><span class="c" style="right:460.52px"><u>1</u></span><span class="c" style="right:421.42px">5</span><span class="c" style="right:384.50px">9</span><span class="d" style="left:285.40px;top:4.75px"></span><span class="c" style="right:310.26px"><u>1</u></span><span class="c" style="right:273.28px">4</span><span class="c" style="right:231.99px">30</span><span class="c" style="right:194.88px">56</span><span class="d" style="left:474.10px;top:4.75px"></span><span class="c" style="right:121.10px">0</span><span class="c" style="right:81.03px">2</span><span class="c" style="right:44.18px">9</span><span class="c" style="right:7.29px">6</span></div>
<div class="r" style="top:485.83px"><span class="n">Louisiana</span><span class="d" style="left:101.84px;top:5.17px"></span><span class="c" style="right:497.30px">0</span><span class="c" style="right:460.52px">2</span><span class="c" style="right:421.42px">9</span><span class="c" style="right:384.50px">24</span><span class="d" style="left:285.40px;top:5.17px"></span><span class="c" style="right:310.26px"><u>1</u></span><span class="c" style="right:273.28px">4</span><span class="c" style="right:231.99px">52</span><span class="c" style="right:194.88px">7<u>1</u></span><span class="d" style="left:474.10px;top:5.17px"></span><span class="c" style="right:121.10px">0</span><span class="c" style="right:81.03px"><u>1</u></span><span class="c" style="right:44.18px">6</span><span class="c" style="right:7.29px">4</span></div>
<div class="r" style="top:494.41px"><span class="n">Oklahoma</span><span class="d" style="left:101.84px;top:5.09px"></span><span class="c" style="right:497.30px">0</span><span class="c" style="right:460.52px">7</span><span class="c" style="right:421.42px">7</span><span class="c" style="right:384.50px">3</span><span class="c" style="right:347.20px">5</span><span class="c" style="right:310.26px">3</span><span class="c" style="right:273.28px">37</span><span class="c" style="right:231.99px">75</span><span class="c" style="right:194.88px">32</span><span class="d" style="left:474.10px;top:5.09px"></span><span class="c" style="right:121.10px">0</span><span class="c" style="right:81.03px">3</span><span class="c" style="right:44.18px">3</span><span class="c" style="right:7.29px">4</span></div>
<div class="r" style="top:502.99px"><span class="n">Texas<sup>§</sup></span><span class="c" style="right:530.76px"><u>1</u></span><span class="c" style="right:497.30px">5</span><span class="c" style="right:460.52px">53</span><span class="c" style="right:421.42px"><u>1</u>45</span><span class="c" style="right:384.50px"><u>1</u><u>1</u>5</span><span class="c" style="right:347.20px">6</span><span class="c" style="right:310.26px">9</span><span class="c" style="right:273.28px"><u>1</u>07</span><span class="c" style="right:231.99px">297</span><span class="c" style="right:194.88px">436</span><span class="c" style="right:158.50px"><u>1</u></span><span class="c" style="right:121.10px"><u>1</u></span><span class="c" style="right:81.03px"><u>1</u>8</span><span class="c" style="right:44.18px">3<u>1</u></span><span class="c" style="right:7.29px">66</span></div>
<div class="r b" style="top:514.00px"><span class="n">Mountain</span><span class="c" style="right:530.76px"><u>1</u></span><span class="c" style="right:497.30px">4</span><span class="c" style="right:460.52px">9</span><span class="c" style="right:421.42px"><u>1</u>44</span><span class="c" style="right:384.50px"><u>1</u>67</span><span class="c" style="right:347.20px"><u>1</u></span><span class="c" style="right:310.26px">3</span><span class="c" style="right:273.28px"><u>1</u><u>1</u></span><span class="c" style="right:231.99px"><u>1</u>29</span><span class="c" style="right:194.88px"><u>1</u>49</span><span class="d" style="left:474.10px;top:5.00px"></span><span class="c" style="right:121.10px">2</span><span class="c" style="right:81.03px">5</span><span class="c" style="right:44.18px">49</span><span class="c" style="right:7.29px">68</span></div>
<div class="r" style="top:522.58px"><span class="n">Arizona</span><span class="d" style="left:101.84px;top:4.92px"></span><span class="c" style="right:497.30px">2</span><span class="c" style="right:460.52px">8</span><span class="c" style="right:421.42px">75</span><span class="c" style="right:384.50px"><u>1</u><u>1</u>4</span><span class="d" style="left:285.40px;top:4.92px"></span><span class="c" style="right:310.26px"><u>1</u></span><span class="c" style="right:273.28px">4</span><span class="c" style="right:231.99px">39</span><span class="c" style="right:194.88px">66</span><span class="d" style="left:474.10px;top:4.92px"></span><span class="c" style="right:121.10px">0</span><span class="c" style="right:81.03px">5</span><span class="c" style="right:44.18px"><u>1</u>4</span><span class="c" style="right:7.29px">2<u>1</u></span></div>
<div class="r" style="top:531.16px"><span class="n">Colorado</span><span class="d" style="left:101.84px;top:4.84px"></span><span class="c" style="right:497.30px">0</span><span class="c" style="right:460.52px">3</span><span class="c" style="right:421.42px">27</span><span class="c" style="right:384.50px">20</span><span class="d" style="left:285.40px;top:4.84px"></span><span class="c" style="right:310.26px">0</span><span class="c" style="right:273.28px">3</span><span class="c" style="right:231.99px">20</span><span class="c" style="right:194.88px">22</span><span class="d" style="left:474.10px;top:4.84px"></span><span class="c" style="right:121.10px">0</span><span class="c" style="right:81.03px">2</span><span class="c" style="right:44.18px">3</span><span class="c" style="right:7.29px"><u>1</u>7</span></div>
<div class="r" style="top:539.74px"><span class="n">Idaho<sup>§</sup></span><span class="c" style="right:530.76px"><u>1</u></span><span class="c" style="right:497.30px">0</span><span class="c" style="right:460.52px">3</span><span class="c" style="right:421.42px"><u>1</u>7</span><span class="c" style="right:384.50px">3</span><span class="c" style="right:347.20px"><u>1</u></span><span class="c" style="right:310.26px">0</span><span class="c" style="right:273.28px">2</span><span class="c" style="right:231.99px">6</span><span class="c" style="right:194.88px">9</span><span class="d" style="left:474.10px;top:4.76px"></span><span class="c" style="right:121.10px">0</span><span class="c" style="right:81.03px"><u>1</u></span><span class="c" style="right:44.18px">3</span><span class="c" style="right:7.29px">4</span></div>
<div class="r" style="top:548.32px"><span class="n">Montana<sup>§</sup></span><span class="d" style="left:101.84px;top:4.68px"></span><span class="c" style="right:497.30px">0</span><span class="c" style="right:460.52px"><u>1</u></span><span class="d" style="left:211.18px;top:4.68px"></span><span class="c" style="right:384.50px">8</span><span class="d" style="left:285.40px;top:4.68px"></span><span class="c" style="right:310.26px">0</span><span class="c" style="right:273.28px"><u>1</u></span><span class="d" style="left:400.61px;top:4.68px"></span><span class="d" style="left:437.72px;top:4.68px"></span><span class="d" style="left:474.10px;top:4.68px"></span><span class="c" style="right:121.10px">0</span><span class="c" style="right:81.03px"><u>1</u></span><span class="c" style="right:44.18px">3</span><span class="c" style="right:7.29px">3</span></div>
<div class="r" style="top:556.90px"><span class="n">Nevada<sup>§</sup></span><span class="d" style="left:101.84px;top:5.10px"></span><span class="c" style="right:497.30px">0</span><span class="c" style="right:460.52px">2</span><span class="c" style="right:421.42px">5</span><span class="c" style="right:384.50px">9</span><span class="d" style="left:285.40px;top:5.10px"></span><span class="c" style="right:310.26px"><u>1</u></span><span class="c" style="right:273.28px">3</span><span class="c" style="right:231.99px">30</span><span class="c" style="right:194.88px">33</span><span class="d" style="left:474.10px;top:5.10px"></span><span class="c" style="right:121.10px">0</span><span class="c" style="right:81.03px">2</span><span class="c" style="right:44.18px">8</span><span class="c" style="right:7.29px">6</span></div>
<div class="r" style="top:565.48px"><span class="n">New Mexico<sup>§</sup></span><span class="d" style="left:101.84px;top:5.02px"></span><span class="c" style="right:497.30px">0</span><span class="c" style="right:460.52px">3</span><span class="c" style="right:421.42px"><u>1</u>5</span><span class="c" style="right:384.50px">6</span><span class="d" style="left:285.40px;top:5.02px"></span><span class="c" style="right:310.26px">0</span><span class="c" style="right:273.28px">2</span><span class="c" style="right:231.99px">8</span><span class="c" style="right:194.88px"><u>1</u>0</span><span class="d" style="left:474.10px;top:5.02px"></span><span class="c" style="right:121.10px">0</span><span class="c" style="right:81.03px"><u>1</u></span><span class="c" style="right:44.18px">4</span><span class="c" style="right:7.29px">8</span></div>
<div class="r" style="top:574.06px"><span class="n">Utah</span><span class="d" style="left:101.84px;top:4.94px"></span><span class="c" style="right:497.30px">0</span><span class="c" style="right:460.52px">2</span><span class="c" style="right:421.42px">2</span><span class="c" style="right:384.50px">5</span><span class="d" style="left:285.40px;top:4.94px"></span><span class="c" style="right:310.26px">0</span><span class="c" style="right:273.28px">5</span><span class="c" style="right:231.99px">23</span><span class="c" style="right:194.88px">5</span><span class="d" style="left:474.10px;top:4.94px"></span><span class="c" style="right:121.10px">0</span><span class="c" style="right:81.03px">3</span><span class="c" style="right:44.18px"><u>1</u>4</span><span class="c" style="right:7.29px">6</span></div>
<div class="r" style="top:582.64px"><span class="n">Wyoming<sup>§</sup></span><span class="d" style="left:101.84px;top:4.86px"></span><span class="c" style="right:497.30px">0</span><span class="c" style="right:460.52px"><u>1</u></span><span class="c" style="right:421.42px">3</span><span class="c" style="right:384.50px">2</span><span class="d" style="left:285.40px;top:4.86px"></span><span class="c" style="right:310.26px">0</span><span class="c" style="right:273.28px"><u>1</u></span><span class="c" style="right:231.99px">3</span><span class="c" style="right:194.88px">4</span><span class="d" style="left:474.10px;top:4.86px"></span><span class="c" style="right:121.10px">0</span><span class="c" style="right:81.03px">0</span><span class="d" style="left:588.42px;top:4.86px"></span><span class="c" style="right:7.29px">3</span></div>
<div class="r b" style="top:593.65px"><span class="n">Pacific</span><span class="d" style="left:101.84px;top:4.85px"></span><span class="c" style="right:497.30px"><u>1</u><u>1</u></span><span class="c" style="right:460.52px">5<u>1</u></span><span class="c" style="right:421.42px">390</span><span class="c" style="right:384.50px">458</span><span class="c" style="right:347.20px">2</span><span class="c" style="right:310.26px">9</span><span class="c" style="right:273.28px">30</span><span class="c" style="right:231.99px">244</span><span class="c" style="right:194.88px">344</span><span class="c" style="right:158.50px"><u>1</u></span><span class="c" style="right:121.10px">4</span><span class="c" style="right:81.03px"><u>1</u>8</span><span class="c" style="right:44.18px"><u>1</u>5<u>1</u></span><span class="c" style="right:7.29px">78</span></div>
<div class="r" style="top:602.23px"><span class="n">Alaska</span><span class="d" style="left:101.84px;top:4.77px"></span><span class="c" style="right:497.30px">0</span><span class="c" style="right:460.52px"><u>1</u></span><span class="c" style="right:421.42px">2</span><span class="c" style="right:384.50px">3</span><span class="c" style="right:347.20px"><u>1</u></span><span class="c" style="right:310.26px">0</span><span class="c" style="right:273.28px">2</span><span class="c" style="right:231.99px">9</span><span class="c" style="right:194.88px">4</span><span class="d" style="left:474.10px;top:4.77px"></span><span class="c" style="right:121.10px">0</span><span class="c" style="right:81.03px"><u>1</u></span><span class="c" style="right:44.18px"><u>1</u></span><span class="d" style="left:625.31px;top:4.77px"></span></div>
<div class="r" style="top:610.81px"><span class="n">California</span><span class="d" style="left:101.84px;top:5.19px"></span><span class="c" style="right:497.30px">9</span><span class="c" style="right:460.52px">42</span><span class="c" style="right:421.42px">320</span><span class="c" style="right:384.50px">397</span><span class="d" style="left:285.40px;top:5.19px"></span><span class="c" style="right:310.26px">6</span><span class="c" style="right:273.28px"><u>1</u>9</span><span class="c" style="right:231.99px"><u>1</u>66</span><span class="c" style="right:194.88px">254</span><span class="d" style="left:474.10px;top:5.19px"></span><span class="c" style="right:121.10px">3</span><span class="c" style="right:81.03px"><u>1</u>4</span><span class="c" style="right:44.18px"><u>1</u><u>1</u>9</span><span class="c" style="right:7.29px">59</span></div>
<div class="r" style="top:619.39px"><span class="n">Hawaii</span><span class="d" style="left:101.84px;top:5.11px"></span><span class="c" style="right:497.30px">0</span><span class="c" style="right:460.52px"><u>1</u></span><span class="c" style="right:421.42px">7</span><span class="c" style="right:384.50px">5</span><span class="d" style="left:285.40px;top:5.11px"></span><span class="c" style="right:310.26px">0</span><span class="c" style="right:273.28px">2</span><span class="c" style="right:231.99px">4</span><span class="c" style="right:194.88px"><u>1</u>0</span><span class="d" style="left:474.10px;top:5.11px"></span><span class="c" style="right:121.10px">0</span><span class="c" style="right:81.03px"><u>1</u></span><span class="c" style="right:44.18px">4</span><span class="c" style="right:7.29px"><u>1</u></span></div>
<div class="r" style="top:627.97px"><span class="n">Oregon<sup>§</sup></span><span class="d" style="left:101.84px;top:5.03px"></span><span class="c" style="right:497.30px"><u>1</u></span><span class="c" style="right:460.52px">3</span><span class="c" style="right:421.42px">23</span><span class="c" style="right:384.50px">20</span><span class="d" style="left:285.40px;top:5.03px"></span><span class="c" style="right:310.26px"><u>1</u></span><span class="c" style="right:273.28px">3</span><span class="c" style="right:231.99px">30</span><span class="c" style="right:194.88px">4<u>1</u></span><span class="d" style="left:474.10px;top:5.03px"></span><span class="c" style="right:121.10px">0</span><span class="c" style="right:81.03px">2</span><span class="c" style="right:44.18px"><u>1</u><u>1</u></span><span class="c" style="right:7.29px">6</span></div>
<div class="r" style="top:636.55px"><span class="n">Washington</span><span class="d" style="left:101.84px;top:4.95px"></span><span class="c" style="right:497.30px"><u>1</u></span><span class="c" style="right:460.52px">7</span><span class="c" style="right:421.42px">38</span><span class="c" style="right:384.50px">33</span><span class="c" style="right:347.20px"><u>1</u></span><span class="c" style="right:310.26px"><u>1</u></span><span class="c" style="right:273.28px">9</span><span class="c" style="right:231.99px">35</span><span class="c" style="right:194.88px">35</span><span class="c" style="right:158.50px"><u>1</u></span><span class="c" style="right:121.10px">0</span><span class="c" style="right:81.03px">3</span><span class="c" style="right:44.18px"><u>1</u>6</span><span class="c" style="right:7.29px"><u>1</u>2</span></div>
<div class="r" style="top:647.56px"><span class="n">American Samoa</span><span class="d" style="left:101.84px;top:4.94px"></span><span class="c" style="right:497.30px">0</span><span class="c" style="right:460.52px">0</span><span class="d" style="left:211.18px;top:4.94px"></span><span class="d" style="left:248.10px;top:4.94px"></span><span class="d" style="left:285.40px;top:4.94px"></span><span class="c" style="right:310.26px">0</span><span class="c" style="right:273.28px">0</span><span class="d" style="left:400.61px;top:4.94px"></span><span class="c" style="right:194.88px"><u>1</u>4</span><span class="c" style="right:158.50px">N</span><span class="c" style="right:121.10px">0</span><span class="c" style="right:81.03px">0</span><span class="c" style="right:44.18px">N</span><span class="c" style="right:7.29px">N</span></div>
<div class="r" style="top:656.14px"><span class="n">C.N.M.I.</span><span class="d" style="left:101.84px;top:4.86px"></span><span class="d" style="left:135.30px;top:4.86px"></span><span class="d" style="left:172.08px;top:4.86px"></span><span class="d" style="left:211.18px;top:4.86px"></span><span class="d" style="left:248.10px;top:4.86px"></span><span class="d" style="left:285.40px;top:4.86px"></span><span class="d" style="left:322.34px;top:4.86px"></span><span class="d" style="left:359.32px;top:4.86px"></span><span class="d" style="left:400.61px;top:4.86px"></span><span class="d" style="left:437.72px;top:4.86px"></span><span class="d" style="left:474.10px;top:4.86px"></span><span class="d" style="left:511.50px;top:4.86px"></span><span class="d" style="left:551.57px;top:4.86px"></span><span class="d" style="left:588.42px;top:4.86px"></span><span class="d" style="left:625.31px;top:4.86px"></span></div>
<div class="r" style="top:664.72px"><span class="n">Guam</span><span class="d" style="left:101.84px;top:4.78px"></span><span class="c" style="right:497.30px">0</span><span class="c" style="right:460.52px">0</span><span class="d" style="left:211.18px;top:4.78px"></span><span class="d" style="left:248.10px;top:4.78px"></span><span class="d" style="left:285.40px;top:4.78px"></span><span class="c" style="right:310.26px">0</span><span class="c" style="right:273.28px"><u>1</u></span><span class="d" style="left:400.61px;top:4.78px"></span><span class="c" style="right:194.88px">2</span><span class="d" style="left:474.10px;top:4.78px"></span><span class="c" style="right:121.10px">0</span><span class="c" style="right:81.03px">0</span><span class="d" style="left:588.42px;top:4.78px"></span><span class="d" style="left:625.31px;top:4.78px"></span></div>
<div class="r" style="top:673.30px"><span class="n">Puerto Rico</span><span class="d" style="left:101.84px;top:4.70px"></span><span class="c" style="right:497.30px">0</span><span class="c" style="right:460.52px">4</span><span class="c" style="right:421.42px"><u>1</u>3</span><span class="c" style="right:384.50px">52</span><span class="d" style="left:285.40px;top:4.70px"></span><span class="c" style="right:310.26px"><u>1</u></span><span class="c" style="right:273.28px">5</span><span class="c" style="right:231.99px">26</span><span class="c" style="right:194.88px">52</span><span class="d" style="left:474.10px;top:4.70px"></span><span class="c" style="right:121.10px">0</span><span class="c" style="right:81.03px"><u>1</u></span><span class="c" style="right:44.18px"><u>1</u></span><span class="c" style="right:7.29px">4</span></div>
<div class="r" style="top:681.88px"><span class="n">U.S.<span style="letter-spacing:-1.7px"> </span>Virgin Islands</span><span class="d" style="left:101.84px;top:5.12px"></span><span class="c" style="right:497.30px">0</span><span class="c" style="right:460.52px">0</span><span class="d" style="left:211.18px;top:5.12px"></span><span class="d" style="left:248.10px;top:5.12px"></span><span class="d" style="left:285.40px;top:5.12px"></span><span class="c" style="right:310.26px">0</span><span class="c" style="right:273.28px">0</span><span class="d" style="left:400.61px;top:5.12px"></span><span class="d" style="left:437.72px;top:5.12px"></span><span class="d" style="left:474.10px;top:5.12px"></span><span class="c" style="right:121.10px">0</span><span class="c" style="right:81.03px">0</span><span class="d" style="left:588.42px;top:5.12px"></span><span class="d" style="left:625.31px;top:5.12px"></span></div>
<div class="ln" style="left:3.5px;top:692.5px;width:634.5px;height:1.5px"></div>
<div class="abs f" style="left:4.60px;top:695.10px">C.N.M.I.: Commonwealth of Northern Mariana Islands.</div>
<div class="abs f" style="left:4.60px;top:703.85px">U: Unavailable.</div>
<div class="abs f" style="left:70.20px;top:703.85px">—: No reported cases.</div>
<div class="abs f" style="left:162.30px;top:703.85px">N: Not notifiable.</div>
<div class="abs f" style="left:232.90px;top:703.85px">Cum: Cumulative year-to-date counts.</div>
<div class="abs f" style="left:380.00px;top:703.85px">Med: Median.</div>
<div class="abs f" style="left:440.40px;top:703.85px">Max: Maximum.</div>
<div class="abs f" style="left:4.60px;top:712.60px">* Incidence data for reporting years 2007 and 2008 are provisional.</div>
<div class="abs f" style="left:4.60px;top:721.35px"><sup>†</sup> Data for acute hepatitis C, viral are available in Table I.</div>
<div class="abs f" style="left:4.60px;top:730.10px"><sup>§</sup> Contains data reported through the National Electronic Disease Surveillance System (NEDSS).</div>
</div></div></body></html>
